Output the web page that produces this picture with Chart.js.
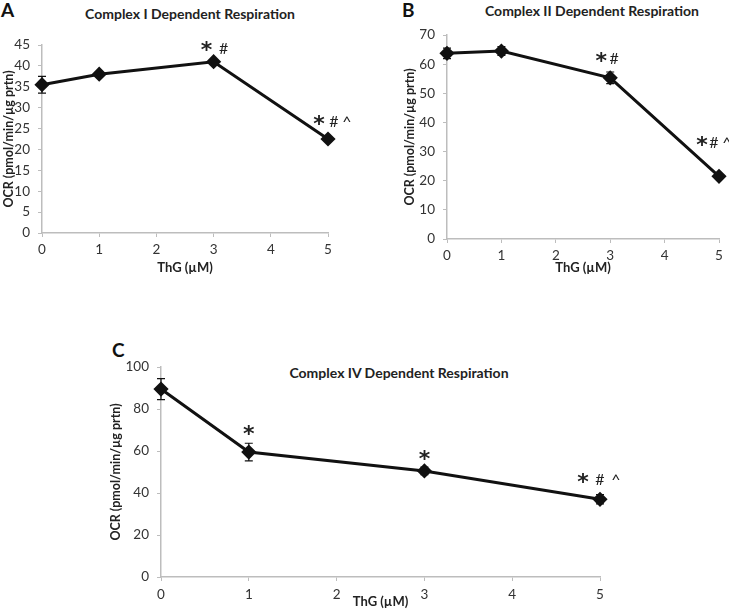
<!DOCTYPE html>
<html><head><meta charset="utf-8">
<script src="https://cdn.jsdelivr.net/npm/chart.js@4.4.1/dist/chart.umd.min.js"></script>
<style>
html,body{margin:0;padding:0;background:#fff;}
body{width:729px;height:610px;position:relative;overflow:hidden;font-family:Lato,sans-serif;}
canvas{position:absolute;}
.lbl{position:absolute;font-weight:bold;color:#111;white-space:nowrap;line-height:1;font-size:19px;}
.ttl{position:absolute;font-weight:bold;font-size:14px;color:#222;white-space:nowrap;transform:translate(-50%,-50%);line-height:1;}
</style></head><body>
<div class="lbl" style="left:1px;top:0px">A</div>
<div class="lbl" style="left:402px;top:0px">B</div>
<div class="lbl" style="left:112px;top:340px">C</div>
<div class="ttl" style="left:190px;top:14px">Complex I Dependent Respiration</div>
<div class="ttl" style="left:592px;top:11px">Complex II Dependent Respiration</div>
<div class="ttl" style="left:399px;top:373px">Complex IV Dependent Respiration</div>
<canvas id="cA"></canvas>
<canvas id="cB"></canvas>
<canvas id="cC"></canvas>
<script>
// ---- data ----
const thgA = [0, 1, 3, 5];
const ocrA = [35.5, 38.0, 41.0, 22.5];
const semA = [2.0, 0.4, 0.4, 0.4];
const sigA = ['', '', '* #', '* # ^'];

const thgB = [0, 1, 3, 5];
const ocrB = [63.7, 64.5, 55.3, 21.5];
const semB = [1.8, 1.5, 2.0, 0.8];
const sigB = ['', '', '* #', '* # ^'];

const thgC = [0, 1, 3, 5];
const ocrC = [89.5, 59.5, 50.5, 37.0];
const semC = [5.0, 4.2, 1.8, 2.2];
const sigC = ['', '*', '*', '* # ^'];

const xTicks = [0, 1, 2, 3, 4, 5];
const yTitle = 'OCR (pmol/min/µg prtn)';
const xTitle = 'ThG (µM)';

const AXIS = '#bdbdbd';
const TXT = '#333';

const errPlugin = {
  id: 'errbars',
  beforeDatasetsDraw(chart, args, opts) {
    const ctx = chart.ctx, xs = chart.scales.x, ys = chart.scales.y;
    const ds = chart.data.datasets[0];
    ctx.save();
    ctx.strokeStyle = '#111';
    ctx.lineWidth = 1.2;
    ds.data.forEach((p, i) => {
      const e = opts.err[i];
      if (!e) return;
      const px = xs.getPixelForValue(p.x);
      const y1 = ys.getPixelForValue(p.y + e), y2 = ys.getPixelForValue(p.y - e);
      ctx.beginPath();
      ctx.moveTo(px, y1); ctx.lineTo(px, y2);
      ctx.moveTo(px - 4, y1); ctx.lineTo(px + 4, y1);
      ctx.moveTo(px - 4, y2); ctx.lineTo(px + 4, y2);
      ctx.stroke();
    });
    ctx.restore();
  }
};

const sigPlugin = {
  id: 'sig',
  afterDatasetsDraw(chart, args, opts) {
    const ctx = chart.ctx, xs = chart.scales.x, ys = chart.scales.y;
    const ds = chart.data.datasets[0];
    ctx.save();
    ctx.fillStyle = '#222';
    ctx.textAlign = 'center';
    ctx.textBaseline = 'middle';
    ds.data.forEach((p, i) => {
      const s = opts.labels[i];
      if (!s) return;
      const lay = opts.layout[i];
      const px = xs.getPixelForValue(p.x), py = ys.getPixelForValue(p.y);
      s.split(' ').forEach((tok, k) => {
        if (tok === '*') { ctx.font = 'bold 22px "DejaVu Sans"'; }
        else { ctx.font = '16px Lato'; }
        const dyTok = tok === '*' ? 3 : 0;
        ctx.fillText(tok, px + lay.dx[k], py - lay.dy + dyTok);
      });
    });
    ctx.restore();
  }
};

function makeChart(id, c) {
  const cv = document.getElementById(id);
  cv.width = c.box.W; cv.height = c.box.H;
  cv.style.left = c.box.L + 'px'; cv.style.top = c.box.T + 'px';
  const pad = {
    left: c.area.l - c.box.L - c.yW,
    top: c.area.t - c.box.T,
    right: c.box.L + c.box.W - c.area.r,
    bottom: c.box.T + c.box.H - c.area.b - c.xH
  };
  const pts = c.x.map((v, i) => ({x: v, y: c.y[i]}));
  return new Chart(cv, {
    type: 'line',
    data: {datasets: [{
      data: pts,
      borderColor: '#111',
      backgroundColor: '#111',
      borderWidth: 3,
      pointStyle: 'rectRot',
      pointRadius: 5.5,
      pointHoverRadius: 5.5,
      tension: 0,
      clip: false
    }]},
    options: {
      responsive: false,
      animation: false,
      events: [],
      layout: {padding: pad},
      plugins: {
        legend: {display: false},
        tooltip: {enabled: false},
        errbars: {err: c.err},
        sig: {labels: c.sig, layout: c.sigLayout}
      },
      scales: {
        x: {
          type: 'linear', min: 0, max: 5,
          afterBuildTicks: s => { s.ticks = xTicks.map(v => ({value: v})); },
          afterFit: s => { s.height = c.xH; },
          grid: {drawOnChartArea: false, drawTicks: true, tickLength: 4, color: AXIS},
          border: {display: true, color: AXIS, width: 1.5},
          ticks: {color: TXT, font: {family: 'Lato', size: 13.5}, padding: c.xTickPad},
          title: {display: true, text: xTitle, color: '#222', font: {family: 'Lato', size: 13, weight: 'bold'}, padding: 0}
        },
        y: {
          min: 0, max: c.ymax,
          ticks: {stepSize: c.step, color: TXT, font: {family: 'Lato', size: 13.5}, padding: 8},
          afterFit: s => { s.width = c.yW; },
          grid: {drawOnChartArea: false, drawTicks: true, tickLength: 4, color: AXIS},
          border: {display: true, color: AXIS, width: 1.5},
          title: {display: true, text: yTitle, color: '#222', font: {family: 'Lato', size: 12.5, weight: 'bold'}, padding: 0}
        }
      }
    },
    plugins: [errPlugin, sigPlugin]
  });
}

makeChart('cA', {
  box: {L: 0, T: 0, W: 360, H: 292},
  area: {l: 42, t: 45, r: 328, b: 233},
  yW: 41, xH: 43, xTickPad: 5,
  ymax: 45, step: 5,
  x: thgA, y: ocrA, err: semA, sig: sigA,
  sigLayout: [null, null, {dx: [-7, 10], dy: 13}, {dx: [-9, 6, 19], dy: 17}]
});
makeChart('cB', {
  box: {L: 360, T: 0, W: 369, H: 292},
  area: {l: 447, t: 35, r: 719, b: 239},
  yW: 45, xH: 37, xTickPad: 5,
  ymax: 70, step: 10,
  x: thgB, y: ocrB, err: semB, sig: sigB,
  sigLayout: [null, null, {dx: [-9, 4], dy: 19}, {dx: [-17, -5, 8], dy: 33}]
});
makeChart('cC', {
  box: {L: 100, T: 330, W: 629, H: 280},
  area: {l: 161, t: 367, r: 600, b: 577},
  yW: 53, xH: 33, xTickPad: 6,
  ymax: 100, step: 20,
  x: thgC, y: ocrC, err: semC, sig: sigC,
  sigLayout: [null, {dx: [0], dy: 20}, {dx: [0], dy: 14}, {dx: [-17, 0, 16], dy: 19}]
});
</script>
</body></html>
